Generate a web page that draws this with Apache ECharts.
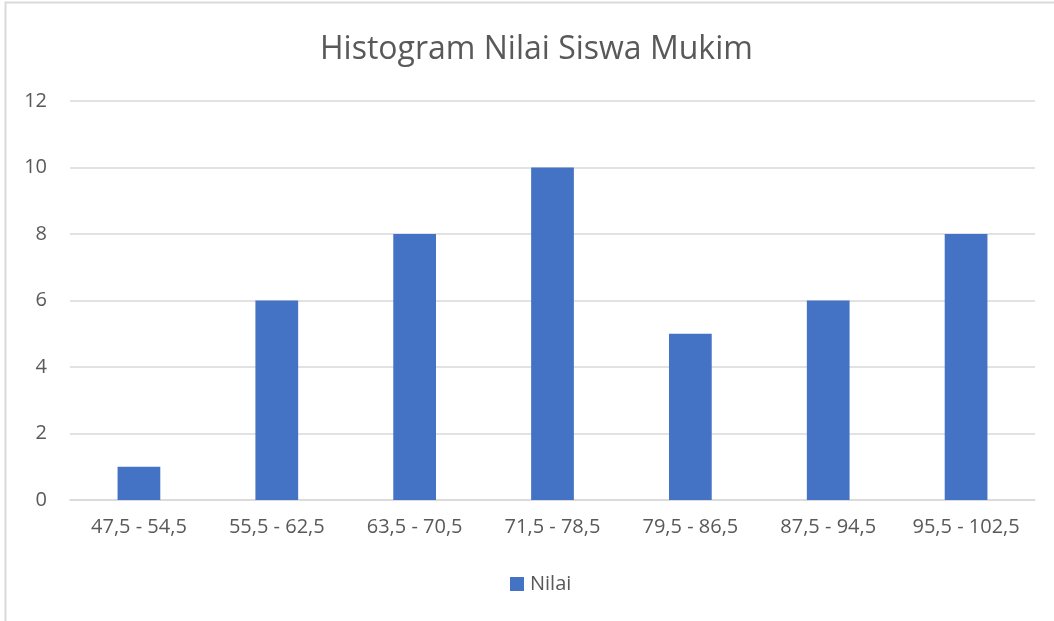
<!DOCTYPE html>
<html>
<head>
<meta charset="utf-8">
<script src="https://cdn.jsdelivr.net/npm/echarts@6/dist/echarts.min.js"></script>
<style>
  html, body { margin: 0; padding: 0; background: #fff; }
  #chart { width: 1054px; height: 621px; }
</style>
</head>
<body>
<div id="chart"></div>
<script>
const categories = ['47,5 - 54,5', '55,5 - 62,5', '63,5 - 70,5', '71,5 - 78,5', '79,5 - 86,5', '87,5 - 94,5', '95,5 - 102,5']
const nilai = [1, 6, 8, 10, 5, 6, 8]

const textColor = '#595959'
const gridColor = '#d9d9d9'

const chart = echarts.init(document.getElementById('chart'))

const option = {
  animation: false,
  textStyle: { fontFamily: 'Open Sans' },
  graphic: [{
    type: 'rect',
    shape: { x: 5.5, y: 2.5, width: 1200, height: 800 },
    style: { fill: 'none', stroke: gridColor, lineWidth: 2 },
    silent: true
  }],
  title: {
    text: 'Histogram Nilai Siswa Mukim',
    left: 315,
    top: 29,
    textStyle: { color: textColor, fontSize: 32, fontWeight: 'normal', fontFamily: 'Open Sans' }
  },
  legend: {
    bottom: 22,
    left: 505,
    itemWidth: 14,
    itemHeight: 14,
    itemGap: 4,
    icon: 'rect',
    textStyle: { color: textColor, fontSize: 20, padding: [0, 0, 0, 1] },
    data: ['Nilai']
  },
  grid: {
    left: 70,
    right: 19,
    top: 101,
    bottom: 121
  },
  xAxis: {
    type: 'category',
    data: categories,
    axisLine: { lineStyle: { color: gridColor, width: 1.5 } },
    axisTick: { show: false },
    axisLabel: { color: textColor, fontSize: 20, margin: 17, interval: 0 }
  },
  yAxis: {
    type: 'value',
    min: 0,
    max: 12,
    interval: 2,
    axisLine: { show: false },
    axisTick: { show: false },
    axisLabel: { color: textColor, fontSize: 20, margin: 23 },
    splitLine: { lineStyle: { color: gridColor, width: 1.5 } }
  },
  series: [{
    name: 'Nilai',
    type: 'bar',
    data: nilai,
    barWidth: '31%',
    itemStyle: { color: '#4472c4' }
  }]
}

chart.setOption(option)
</script>
</body>
</html>
